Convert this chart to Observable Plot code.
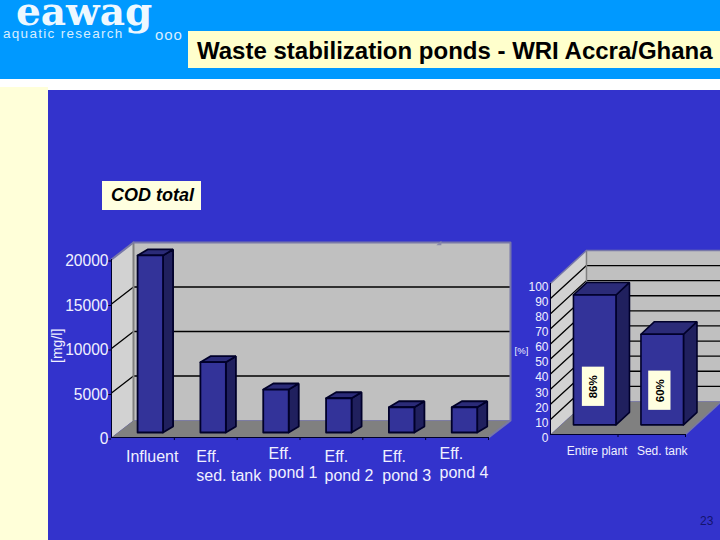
<!DOCTYPE html>
<html><head><meta charset="utf-8">
<script src="https://cdn.jsdelivr.net/npm/d3@7"></script>
<script src="https://cdn.jsdelivr.net/npm/@observablehq/plot@0.6"></script>
<style>
html,body{margin:0;padding:0;width:720px;height:540px;overflow:hidden;background:#fff;font-family:"Liberation Sans",Arial,sans-serif}
.abs{position:absolute;white-space:nowrap}
#band{left:0;top:0;width:720px;height:79px;background:#0099ff}
#side{left:0;top:87px;width:48px;height:453px;background:#ffffd9}
#main{left:48px;top:90px;width:672px;height:450px;background:#3333cc}
#logo{left:16px;top:-13px;font:bold 39px/48px "DejaVu Serif",serif;color:#eef8ff}
#sub{left:3px;top:26px;font:13.5px/16px "Liberation Sans",sans-serif;color:#d8eeff;letter-spacing:1.3px}
#ooo{left:155px;top:27px;font:15px/16px "Liberation Sans",sans-serif;color:#d8eeff;letter-spacing:.9px}
#title{left:188px;top:31px;width:532px;height:37px;background:#ffffcc;color:#000;font:bold 24px/40px "Liberation Sans",sans-serif;padding-left:9px;box-sizing:border-box}
#cod{left:102px;top:181px;width:99px;height:29px;background:#ffffe0;color:#000;font:italic bold 18px/29px "Liberation Sans",sans-serif;padding-left:9px;box-sizing:border-box}
#page{left:700px;top:514px;font:12px/14px "Liberation Sans",sans-serif;color:#14146e}
#c1{left:48px;top:235px}
#c2{left:505px;top:240px}
#c1 svg,#c2 svg{display:block;overflow:visible;background:none}
</style></head>
<body>
<div class="abs" id="band"></div>
<div class="abs" id="side"></div>
<div class="abs" id="main"></div>
<div class="abs" id="logo">eawag</div>
<div class="abs" id="sub">aquatic research</div>
<div class="abs" id="ooo">ooo</div>
<div class="abs" id="title">Waste stabilization ponds - WRI Accra/Ghana</div>
<div class="abs" id="cod">COD total</div>
<div class="abs" id="page">23</div>
<div class="abs" id="c1"></div>
<div class="abs" id="c2"></div>
<script>
// ---- data ----
const codCategories = ["Influent", "Eff.\nsed. tank", "Eff.\npond 1", "Eff.\npond 2", "Eff.\npond 3", "Eff.\npond 4"];
const codValues = [19900, 7900, 4830, 3850, 2840, 2840];
const codTicks = [0, 5000, 10000, 15000, 20000];
const removalCategories = ["Entire plant", "Sed. tank"];
const removalValues = [86, 60];
const removalLabels = ["86%", "60%"];
const removalTicks = [0, 10, 20, 30, 40, 50, 60, 70, 80, 90, 100];

// ---- styling ----
const FONT = '"Liberation Sans",Arial,sans-serif';
const C = {front:"#333399", side:"#20205e", top:"#2b2b78", edge:"#00002a",
  wall:"#d2d2d2", back:"#c0c0c0", floor:"#808080", rim:"#7878a8", ink:"#f0f0ff", cream:"#ffffe0"};

const poly = (pts, o) => Plot.line([...pts, pts[0]], {x:"x", y:"y", ...o});

function box3d(g, i, v) {
  const l = i + g.barX, r = l + g.barW, b = g.barBase, t = b + v;
  const D = g.barDx, E = g.barDy, sw = g.barStroke;
  const s = {stroke:C.edge, strokeWidth:sw, strokeLinejoin:"miter"};
  return [
    poly([{x:r,y:b},{x:r+D,y:b+E},{x:r+D,y:t+E},{x:r,y:t}], {fill:C.side, ...s}),
    poly([{x:l,y:t},{x:r,y:t},{x:r+D,y:t+E},{x:l+D,y:t+E}], {fill:C.top, ...s}),
    poly([{x:l,y:b},{x:r,y:b},{x:r,y:t},{x:l,y:t}], {fill:C.front, ...s})
  ];
}

function room(g) {
  const n = g.n, W = g.wx, H = g.wy, top = g.top;
  const grid = g.grid.flatMap(v => [{x:0,y:v,z:v},{x:W,y:v+H,z:v},{x:n+W,y:v+H,z:v}]);
  return [
    poly([{x:0,y:0},{x:W,y:H},{x:W,y:top+H},{x:0,y:top}], {fill:C.wall, stroke:"none"}),
    poly([{x:W,y:H},{x:n+W,y:H},{x:n+W,y:top+H},{x:W,y:top+H}], {fill:C.back, stroke:"none"}),
    poly([{x:0,y:0},{x:n,y:0},{x:n+W,y:H},{x:W,y:H}], {fill:C.floor, stroke:"none"}),
    Plot.line(grid, {x:"x", y:"y", z:"z", stroke:"#000", strokeWidth:1.3}),
    Plot.line([{x:W,y:H},{x:W,y:top+H}], {x:"x", y:"y", stroke:"#808080", strokeWidth:g.rimW}),
    Plot.line([{x:0,y:top},{x:W,y:top+H},{x:n+W,y:top+H},{x:n+W,y:H},{x:n,y:0}], {x:"x", y:"y", stroke:C.rim, strokeWidth:g.rimW})
  ];
}

// ---- left chart: COD total ----
const g1 = {n:6, top:20000, wx:0.35, wy:1910, grid:[5000,10000,15000], rimW:2,
  barX:0.415, barW:0.405, barBase:560, barDx:0.16, barDy:675, barStroke:1.8};
const labelX1 = [0.23, 1.35, 2.5, 3.39, 4.31, 5.22];
const labelY1 = [-1150, -1150, -850, -1150, -1150, -850];
const chart1 = Plot.plot({
  width:465, height:260, marginLeft:63, marginRight:25, marginTop:24, marginBottom:58,
  style:{fontFamily:FONT, background:"none", color:C.ink},
  x:{type:"linear", domain:[0,6], axis:null}, y:{type:"linear", domain:[0,20000], axis:null},
  marks:[
    ...room(g1),
    poly([{x:5.17,y:21600},{x:5.25,y:22100},{x:5.25,y:21600}], {fill:"#8888a8", stroke:"none"}),
    ...codValues.flatMap((v,i) => box3d(g1,i,v)),
    Plot.axisY({ticks:codTicks, tickSize:3, tickPadding:0, tickFormat:d=>String(d), label:null, fontSize:15.6, dy:1.5, stroke:C.edge, fill:C.ink}),
    Plot.ruleX([0], {y1:0, y2:20000, stroke:C.edge, strokeWidth:1}),
    Plot.ruleY([0], {x1:0, x2:6, stroke:C.edge, strokeWidth:1.2}),
    Plot.ruleX([1,2,3,4,5,6], {y1:0, y2:-340, stroke:C.edge}),
    Plot.text(codCategories, {x:(d,i)=>labelX1[i], y:(d,i)=>labelY1[i], text:d=>d, textAnchor:"start", lineAnchor:"top", fontSize:16, lineHeight:1.22, fill:C.ink}),
    Plot.text(["[mg/l]"], {x:()=>-0.86, y:()=>10300, text:d=>d, rotate:-90, fontSize:14, fill:C.ink})
  ]
});
document.getElementById("c1").append(chart1);

// ---- right chart: removal ----
const g2 = {n:2, top:100, wx:0.533, wy:21.9, grid:[10,20,30,40,50,60,70,80,90], rimW:1.5,
  barX:0.34, barW:0.63, barBase:6.4, barDx:0.2, barDy:8.3, barStroke:1.6};
const tagX = [0.637, 1.62], tagY = [31.6, 29], tagW = 0.165, tagH = 13;
const chart2 = Plot.plot({
  width:215, height:220, marginLeft:45, marginRight:35, marginTop:43, marginBottom:26,
  style:{fontFamily:FONT, background:"none", color:C.ink},
  x:{type:"linear", domain:[0,2], axis:null}, y:{type:"linear", domain:[0,100], axis:null},
  marks:[
    ...room(g2),
    ...removalValues.flatMap((v,i) => box3d(g2,i,v)),
    Plot.rect(removalValues, {x1:(d,i)=>tagX[i]-tagW, x2:(d,i)=>tagX[i]+tagW, y1:(d,i)=>tagY[i]-tagH, y2:(d,i)=>tagY[i]+tagH, fill:C.cream}),
    Plot.text(removalLabels, {x:(d,i)=>tagX[i], y:(d,i)=>tagY[i], text:d=>d, rotate:-90, fontSize:11.5, fontWeight:"bold", fill:"#000"}),
    Plot.axisY({ticks:removalTicks, tickSize:0, tickPadding:2, tickFormat:d=>String(d), label:null, fontSize:12, dy:3.5, stroke:"none", fill:C.ink}),
    Plot.ruleX([0], {y1:0, y2:100, stroke:C.edge, strokeWidth:1}),
    Plot.ruleY([0], {x1:0, x2:2, stroke:C.edge, strokeWidth:1.2}),
    Plot.ruleX([1,2], {y1:0, y2:-2, stroke:C.edge}),
    Plot.text(removalCategories, {x:(d,i)=>[0.24,1.28][i], y:()=>-11, text:d=>d, textAnchor:"start", fontSize:12, fill:C.ink}),
    Plot.text(["[%]"], {x:()=>-0.43, y:()=>55.5, text:d=>d, fontSize:9.5, fill:C.ink})
  ]
});
document.getElementById("c2").append(chart2);
</script>
</body></html>
